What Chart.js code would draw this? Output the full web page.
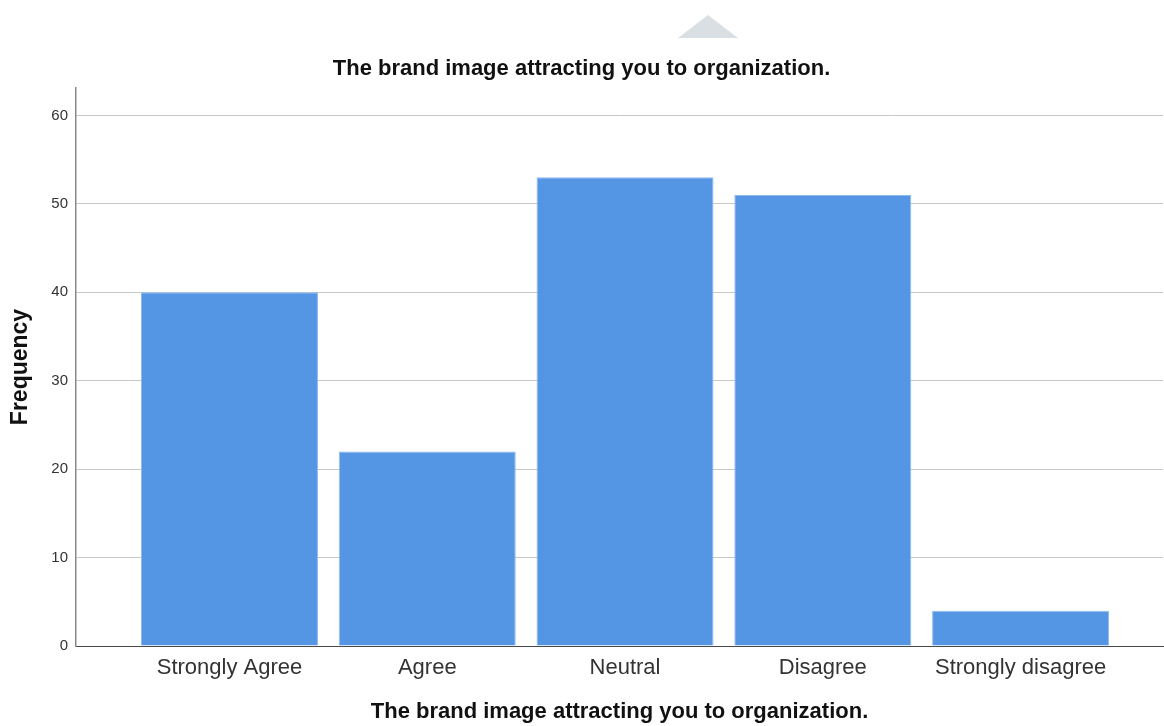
<!DOCTYPE html>
<html>
<head>
<meta charset="utf-8">
<title>Frequency chart</title>
<script src="https://cdn.jsdelivr.net/npm/chart.js@4/dist/chart.umd.min.js"></script>
<style>
  body { margin: 0; background: #fff; }
  #wrap { position: relative; width: 1164px; height: 726px; }
  /* little grey tab above the title */
  #tab {
    position: absolute; left: 678px; top: 15px; width: 0; height: 0;
    border-left: 30px solid transparent; border-right: 30px solid transparent;
    border-bottom: 23px solid #d9dfe3;
  }
</style>
</head>
<body>
<div id="wrap">
  <div id="tab"></div>
  <canvas id="chart-bar" width="1164" height="726"></canvas>
</div>
<script>
const categories = ['Strongly Agree', 'Agree', 'Neutral', 'Disagree', 'Strongly disagree'];
const frequency = [40, 22, 53, 51, 4];
const yTicks = [0, 10, 20, 30, 40, 50, 60];

const titleText = 'The brand image attracting you to organization.';
const fontFamily = '"Liberation Sans", Arial, sans-serif';

const points = categories.map((c, i) => ({ x: i, y: frequency[i] }));

const ctx = document.getElementById('chart-bar').getContext('2d');
new Chart(ctx, {
  type: 'bar',
  data: {
    datasets: [{
      label: 'Frequency',
      data: points,
      backgroundColor: '#5596e4',
      borderColor: '#8fbaee',
      borderWidth: 1,
      barPercentage: 0.895,
      categoryPercentage: 1
    }]
  },
  options: {
    responsive: false,
    animation: false,
    layout: { padding: { left: 0, right: 1, top: 0, bottom: 0 } },
    plugins: {
      legend: { display: false },
      tooltip: { enabled: false },
      title: {
        display: true,
        text: titleText,
        color: '#111',
        font: { family: fontFamily, size: 22, weight: 'bold', lineHeight: 1.2 },
        padding: { top: 55.8, bottom: 5.8 }
      }
    },
    scales: {
      x: {
        type: 'linear',
        min: -0.776,
        max: 4.72,
        offset: false,
        afterBuildTicks: (scale) => {
          scale.ticks = categories.map((c, i) => ({ value: i }));
        },
        afterFit: (scale) => { scale.height = 80; },
        grid: { display: false, drawTicks: false },
        border: { display: true, color: '#4a4a4a', width: 1 },
        ticks: {
          padding: 9,
          color: '#333',
          autoSkip: false,
          maxRotation: 0,
          font: { family: fontFamily, size: 22 },
          callback: (v) => categories[v]
        },
        title: {
          display: true,
          text: titleText,
          color: '#111',
          font: { family: fontFamily, size: 22, weight: 'bold', lineHeight: 1.2 },
          padding: { top: 0, bottom: 0.5 }
        }
      },
      y: {
        min: 0,
        max: 63.1,
        afterBuildTicks: (scale) => {
          scale.ticks = yTicks.map(v => ({ value: v }));
        },
        afterFit: (scale) => { scale.width = 76; },
        grid: { color: '#c8c8c8', lineWidth: 1, drawTicks: false },
        border: { display: true, color: '#8a8a8a', width: 1.5 },
        ticks: {
          padding: 8,
          color: '#333',
          font: { family: fontFamily, size: 15 }
        },
        title: {
          display: true,
          text: 'Frequency',
          color: '#111',
          font: { family: fontFamily, size: 23, weight: 'bold', lineHeight: 1.2 },
          padding: { top: 7, bottom: 0 }
        }
      }
    }
  }
});
</script>
</body>
</html>
